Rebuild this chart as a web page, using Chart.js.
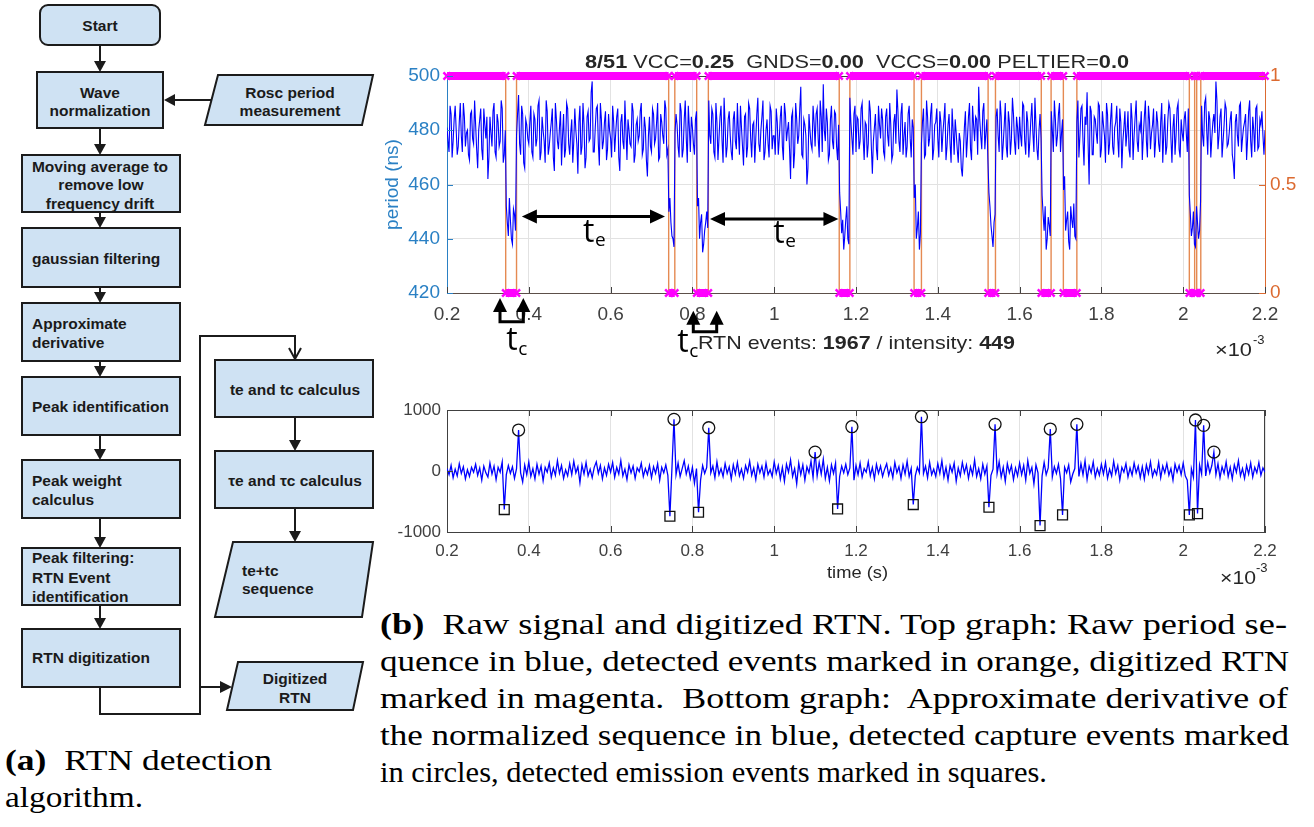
<!DOCTYPE html>
<html><head><meta charset="utf-8">
<script src="https://cdn.jsdelivr.net/npm/chart.js@4.4.1/dist/chart.umd.min.js"></script>
<style>
html,body{margin:0;padding:0;background:#fff;}
#page{position:relative;width:1314px;height:827px;overflow:hidden;background:#fff;}
canvas{position:absolute;}
.fit{position:absolute;white-space:pre;transform-origin:0 50%;}
.sans{font-family:"Liberation Sans",Arial,sans-serif;color:#262626;}
.serif{font-family:"Liberation Serif","Times New Roman",serif;color:#000;font-size:30px;line-height:30px;}
</style></head>
<body><div id="page">
<svg width="380" height="720" style="position:absolute;left:0;top:0" xmlns="http://www.w3.org/2000/svg">
<g fill="#cfe2f3" stroke="#1b1b1b" stroke-width="2">
 <rect x="40" y="5" width="120" height="40" rx="8"/>
 <rect x="37" y="72" width="126" height="56"/>
 <polygon points="218,75 373,75 362,125 205,125"/>
 <rect x="22" y="155" width="158" height="57"/>
 <rect x="22" y="228" width="158" height="59"/>
 <rect x="22" y="303" width="158" height="58"/>
 <rect x="22" y="377" width="158" height="58"/>
 <rect x="22" y="460" width="158" height="58"/>
 <rect x="22" y="548" width="158" height="57"/>
 <rect x="22" y="629" width="158" height="58"/>
 <rect x="215" y="360" width="158" height="57"/>
 <rect x="215" y="451" width="158" height="57"/>
 <polygon points="233,542 373,542 362,617 215,617"/>
 <polygon points="238,662 363,662 353,710 227,710"/>
</g>
<g stroke="#1b1b1b" stroke-width="2" fill="none">
 <line x1="100" y1="45" x2="100" y2="62"/>
 <line x1="100" y1="128" x2="100" y2="145"/>
 <line x1="100" y1="212" x2="100" y2="218"/>
 <line x1="100" y1="287" x2="100" y2="293"/>
 <line x1="100" y1="361" x2="100" y2="367"/>
 <line x1="100" y1="435" x2="100" y2="450"/>
 <line x1="100" y1="518" x2="100" y2="538"/>
 <line x1="100" y1="605" x2="100" y2="619"/>
 <line x1="295" y1="417" x2="295" y2="441"/>
 <line x1="295" y1="508" x2="295" y2="532"/>
 <line x1="211" y1="100" x2="174" y2="100"/>
 <line x1="200" y1="687" x2="221" y2="687"/>
 <polyline points="100,687 100,714 200,714 200,336 295,336 295,359"/>
 <polyline points="289,348 295,359 301,348"/>
</g>
<g fill="#1b1b1b">
 <polygon points="94,61 106,61 100,72"/>
 <polygon points="94,144 106,144 100,155"/>
 <polygon points="94,217 106,217 100,228"/>
 <polygon points="94,292 106,292 100,303"/>
 <polygon points="94,366 106,366 100,377"/>
 <polygon points="94,449 106,449 100,460"/>
 <polygon points="94,537 106,537 100,548"/>
 <polygon points="94,618 106,618 100,629"/>
 <polygon points="289,440 301,440 295,451"/>
 <polygon points="289,531 301,531 295,542"/>
 <polygon points="175,94 175,106 164,100"/>
 <polygon points="220,681 220,693 232,687"/>
</g>
<g font-family="Liberation Sans, Arial, sans-serif" font-weight="bold" font-size="15.5" fill="#1a1a1a" dominant-baseline="central">
 <text x="100" y="25" text-anchor="middle">Start</text>
 <text x="100" y="92" text-anchor="middle">Wave</text>
 <text x="100" y="110" text-anchor="middle">normalization</text>
 <text x="290" y="92" text-anchor="middle">Rosc period</text>
 <text x="290" y="110" text-anchor="middle">measurement</text>
 <text x="100" y="166" text-anchor="middle">Moving average to</text>
 <text x="101" y="184" text-anchor="middle">remove low</text>
 <text x="100" y="203" text-anchor="middle">frequency drift</text>
 <text x="32" y="258">gaussian filtering</text>
 <text x="32" y="323">Approximate</text>
 <text x="32" y="342">derivative</text>
 <text x="32" y="406">Peak identification</text>
 <text x="32" y="480">Peak weight</text>
 <text x="32" y="499">calculus</text>
 <text x="32" y="557">Peak filtering:</text>
 <text x="32" y="577">RTN Event</text>
 <text x="32" y="596">identification</text>
 <text x="32" y="657">RTN digitization</text>
 <text x="295" y="389" text-anchor="middle">te and tc calculus</text>
 <text x="295" y="480" text-anchor="middle">τe and  τc calculus</text>
 <text x="242" y="570">te+tc</text>
 <text x="242" y="588">sequence</text>
 <text x="295" y="678" text-anchor="middle">Digitized</text>
 <text x="295" y="697" text-anchor="middle">RTN</text>
</g>
</svg>

<canvas id="topc" width="937" height="320" style="left:377px;top:40px;width:937px;height:320px"></canvas>
<canvas id="botc" width="937" height="200" style="left:377px;top:390px;width:937px;height:200px"></canvas>

<div class="fit sans" style="font-size:19px;line-height:19px" data-cx="857" data-cy="61" data-w="544" data-k="0.49"><b>8/51</b> VCC=<b>0.25</b>  GNDS=<b>0.00</b>  VCCS=<b>0.00</b> PELTIER=<b>0.0</b></div>
<div class="fit sans" style="font-size:19px;line-height:19px" data-x="698" data-cy="342" data-w="317" data-k="0.49">RTN events: <b>1967</b> / intensity: <b>449</b></div>
<div class="fit sans" style="font-size:19px;line-height:19px" data-x="1215" data-cy="349" data-w="37" data-k="0.49">×10</div>
<div class="fit sans" style="font-size:13px;line-height:13px" data-x="1253" data-cy="339" data-k="0.49">-3</div>
<div class="fit sans" style="font-size:17px;line-height:17px" data-cx="857" data-cy="572" data-w="61" data-k="0.49">time (s)</div>
<div class="fit sans" style="font-size:19px;line-height:19px" data-x="1220" data-cy="577" data-w="36" data-k="0.49">×10</div>
<div class="fit sans" style="font-size:13px;line-height:13px" data-x="1256" data-cy="567" data-k="0.49">-3</div>

<div class="fit serif" data-x="5" data-cy="763" data-w="267" data-k="0.613"><b>(a)</b>  RTN detection</div>
<div class="fit serif" data-x="5" data-cy="800" data-w="138" data-k="0.613">algorithm.</div>
<div class="fit serif" data-x="380" data-cy="627" data-w="907" data-k="0.613"><b>(b)</b>  Raw signal and digitized RTN. Top graph: Raw period se-</div>
<div class="fit serif" data-x="380" data-cy="664" data-w="909" data-k="0.613">quence in blue, detected events marked in orange, digitized RTN</div>
<div class="fit serif" data-x="380" data-cy="701" data-w="908" data-k="0.613">marked in magenta.  Bottom graph:  Approximate derivative of</div>
<div class="fit serif" data-x="380" data-cy="738" data-w="909" data-k="0.613">the normalized sequence in blue, detected capture events marked</div>
<div class="fit serif" data-x="380" data-cy="775" data-w="667" data-k="0.613">in circles, detected emission events marked in squares.</div>
</div>

<script>
// ---------------- DATA ----------------
const T0 = 0.2, DT = 0.005;           // sampling grid of the traces (x10^-3 s)
// period samples on the grid T0 + i*DT
const periodNs = [
481,472,486,476,489,471,483,478,490,474,480,469,487,475,482,466,484,473,488,477,
462,485,474,490,470,483,476,488,471,452,441,447,438,449,478,493,471,486,466,482,
475,489,470,484,477,491,472,480,468,487,474,483,470,490,476,481,467,486,473,488,
471,484,476,480,464,489,474,482,470,487,477,498,472,488,475,490,473,483,469,486,
477,489,472,485,470,483,476,491,469,480,474,487,471,484,478,490,473,481,463,485,
472,486,477,490,470,483,475,488,473,455,441,437,486,474,490,470,484,477,489,472,
481,471,487,455,446,435,443,450,491,475,486,470,483,477,489,468,482,474,487,472,
484,476,490,471,481,467,486,474,488,470,483,477,492,472,485,469,480,475,489,473,
478,488,471,485,474,490,476,483,462,487,472,484,478,496,470,482,460,486,475,489,
474,488,470,485,497,476,483,471,489,473,486,469,457,442,436,447,440,492,477,486,
472,484,476,490,469,482,475,487,464,481,473,489,477,484,470,488,474,482,471,486,
495,476,486,471,483,474,489,470,481,460,444,436,475,488,471,485,477,490,473,483,
477,487,472,484,469,482,475,488,471,479,468,476,463,481,470,485,473,489,476,484,
496,478,487,473,484,457,445,437,449,488,472,485,475,490,470,483,477,486,471,481,
485,474,489,471,483,476,490,472,482,469,486,456,443,436,448,441,480,491,474,486,
472,484,463,447,439,452,444,441,483,470,488,476,485,494,460,487,471,484,475,489,
473,482,468,486,475,490,471,483,477,488,466,481,474,487,470,484,478,491,472,480,
469,485,476,489,473,482,470,487,475,483,468,486,474,490,477,481,471,488,473,484,
476,487,472,456,441,450,437,446,443,489,474,492,471,484,477,486,498,473,485,470,
482,488,475,484,471,462,486,474,490,477,483,469,487,476,485,472,489,474,482,478,
480];
// period samples at the half-steps T0 + (j+0.5)*DT
const periodNsHalf = [
476,489,470,484,480,474,490,472,485,479,471,486,477,491,473,480,488,469,482,485,
470,479,487,472,486,474,491,468,480,446,455,440,451,443,486,475,489,468,484,477,
483,472,486,474,489,469,485,476,491,471,479,488,465,484,473,487,478,470,490,475,
479,468,488,475,483,471,490,466,485,476,494,472,481,489,467,484,476,487,473,480,
470,483,479,488,465,486,473,480,484,475,490,468,482,476,487,471,485,469,478,474,
488,475,483,469,486,478,491,471,450,446,440,479,482,470,487,473,491,468,481,485,
475,484,452,440,449,438,446,444,478,488,472,490,469,485,476,492,470,484,478,469,
487,473,479,489,474,485,470,490,477,482,468,486,475,480,491,472,484,470,487,478,
471,483,477,489,469,486,480,473,485,466,490,475,488,471,484,478,466,480,473,483,
486,477,491,472,480,488,469,484,476,487,474,482,450,447,441,452,438,483,471,489,
485,473,488,477,483,470,491,474,476,486,469,482,488,472,485,478,490,469,483,475,
487,472,490,478,470,486,477,484,455,440,450,442,483,470,491,474,486,469,482,488,
470,483,479,490,474,486,468,480,484,473,479,466,472,487,477,490,469,482,485,471,
484,473,490,479,469,452,441,446,485,478,491,469,482,474,487,471,492,476,485,473,
478,490,476,487,470,484,479,492,473,480,477,449,452,440,445,487,472,484,478,490,
479,458,443,450,436,447,453,440,491,478,489,467,482,475,489,471,485,479,490,470,
487,478,490,471,484,474,481,489,470,483,476,487,479,473,490,469,485,476,482,487,
478,491,470,484,479,488,476,483,472,490,479,471,484,488,468,486,478,490,470,479,
484,479,488,449,444,438,452,440,454,478,490,480,487,470,483,479,491,478,488,476,
490,474,479,487,468,483,478,489,472,481,486,477,491,470,480,488,473,484,487,471];
const derivative = [
40,-60,90,-110,30,-80,120,-40,70,-130,20,-90,60,-20,110,-70,50,-150,80,-30,
-100,130,-50,80,-140,60,-20,150,-632,-60,90,-40,70,-120,40,671,-30,-180,100,-60,
150,-90,40,-130,110,-50,80,-160,60,-20,130,-100,50,-70,170,-40,90,-120,20,-80,
120,-60,160,-30,70,-190,100,-50,140,-80,30,-110,60,150,-40,90,-130,50,-70,110,
-20,140,-100,60,-50,170,-80,30,-140,100,-30,80,-120,50,-10,130,-90,40,-60,90,
-110,70,-40,120,-150,60,-30,100,-70,-742,50,847,-60,130,-90,40,170,-50,80,-120,
60,-200,40,-676,-150,90,-40,60,709,-30,80,-110,150,-60,40,-90,120,-40,70,-130,
100,-50,140,-80,30,-120,90,-20,160,-70,50,-140,110,-30,80,-100,130,-60,20,-90,
150,-40,90,-130,60,-170,110,-20,180,-90,40,-210,130,-60,100,-150,70,-30,160,-110,
310,-80,140,-50,190,-120,60,-160,100,-40,130,-622,-90,80,-30,110,-60,50,726,-150,
90,-60,130,-100,40,-20,150,-80,60,-130,110,-40,80,-90,30,120,-70,50,-110,140,
-30,70,-120,100,-50,160,-90,40,-550,-80,60,-30,890,-40,80,-110,140,-60,30,-90,
120,-40,170,-100,60,-150,90,-20,130,-170,50,-80,140,-30,100,-120,70,-60,180,-90,
40,-130,110,-50,80,-594,-70,30,765,-40,150,-100,60,-170,120,-30,90,-140,50,-80,
130,-60,90,-150,170,-40,60,-210,100,-30,-895,-80,140,-60,50,688,-100,70,-40,110,
-120,-720,60,-30,100,-180,-50,40,765,-90,120,-60,170,-140,80,-30,150,-100,40,-70,
110,-50,140,-120,30,-80,160,-40,90,-150,60,-20,120,-100,50,-70,130,-30,80,-110,
70,-130,100,-40,150,-90,20,-60,140,-110,80,-30,120,-70,40,-150,110,-20,90,-60,
130,-80,-150,-720,40,-100,836,-698,100,-50,748,-80,140,-30,90,310,-60,120,-110,70,
-40,150,-90,60,-130,100,-20,170,-80,40,-120,90,-50,130,-100,60,-30,140,-70,50,
-20];
const eventTimes = [0.3435,0.370,0.742,0.757,0.8105,0.839,1.159,1.185,1.342,1.360,1.523,1.541,1.653,1.677,1.707,1.740,2.015,2.028,2.033,2.043];
const rtnLevels  = [1,0,1,0,1,0,1,0,1,0,1,0,1,0,1,0,1,0,1,0,1];
const captureX  = [0.375,0.755,0.840,1.100,1.190,1.360,1.540,1.675,1.740,2.030,2.050,2.075];
const captureY  = [671,847,709,310,726,890,765,688,765,836,748,310];
const emissionX = [0.340,0.745,0.815,1.155,1.340,1.525,1.650,1.705,2.015,2.035];
const emissionY = [-632,-742,-676,-622,-550,-594,-895,-720,-720,-698];
const xTickValues = [0.2,0.4,0.6,0.8,1,1.2,1.4,1.6,1.8,2,2.2];
const xTickLabels = ['0.2','0.4','0.6','0.8','1','1.2','1.4','1.6','1.8','2','2.2'];
const periodTicks = [420,440,460,480,500];
const rtnTicks = [0,0.5,1];
const rtnTickLabels = ['0','0.5','1'];
const derivTicks = [-1000,0,1000];
const derivTickLabels = ['-1000','0','1000'];
// annotation anchors (data units)
const teSpans = [[0.383,0.733],[0.843,1.157]];
const teLevel = [448.2,447.3];
const teLabelX = [0.5465,1.0117];
const teLabelY = [438.9,438.4];
const tcArrowX = [[0.3296,0.3866],[0.8022,0.8594]];
const tcTipY = [418.2,413.5];
const tcBarY = [409.4,405.7];
const tcLabelX = [0.3589,0.777];
const tcLabelY = [399.0,398.3];

// ---------------- BUILD POINTS ----------------
const periodPts = [];
periodNs.forEach((v,i)=>{
  periodPts.push({x:T0+i*DT, y:v});
  if (i < periodNsHalf.length) periodPts.push({x:T0+(i+0.5)*DT, y:periodNsHalf[i]});
});
const derivPts = derivative.map((v,i)=>({x:T0+i*DT, y:v}));
const bounds = [T0].concat(eventTimes, [T0+(periodNs.length-1)*DT]);
const rtnPts = [];
rtnLevels.forEach((L,i)=>{ rtnPts.push({x:bounds[i],y:L},{x:bounds[i+1],y:L},{x:bounds[i+1],y:null}); });
const eventPts = [];
eventTimes.forEach(t=>{ eventPts.push({x:t,y:0},{x:t,y:1},{x:t,y:null}); });
const capPts = captureX.map((x,i)=>({x, y:captureY[i]}));
const emiPts = emissionX.map((x,i)=>({x, y:emissionY[i]}));

// ---------------- STYLE ----------------
const FONT = '"Liberation Sans", Arial, sans-serif';
const BLUE_AX = '#2a80c4', ORANGE_AX = '#dc6a30', DARK = '#404040', GRID = '#e2e2e2';

const inTicks = {
  id:'inTicks',
  afterDatasetsDraw(chart, args, o){
    const {ctx, chartArea:a} = chart; const L = o.len;
    ctx.save(); ctx.lineWidth = 1;
    const xs = chart.scales.x;
    ctx.strokeStyle = o.xColor;
    xs.ticks.forEach(t=>{ const p = Math.round(xs.getPixelForValue(t.value))+0.5;
      ctx.beginPath(); ctx.moveTo(p,a.bottom); ctx.lineTo(p,a.bottom-L);
      if (o.top){ ctx.moveTo(p,a.top); ctx.lineTo(p,a.top+L); } ctx.stroke(); });
    (o.yAxes||[]).forEach(ax=>{ const s = chart.scales[ax.id]; ctx.strokeStyle = ax.color;
      s.ticks.forEach(t=>{ const p = Math.round(s.getPixelForValue(t.value))+0.5;
        ctx.beginPath();
        if (ax.side==='left'){ ctx.moveTo(a.left,p); ctx.lineTo(a.left+L,p); }
        else { ctx.moveTo(a.right,p); ctx.lineTo(a.right-L,p); }
        ctx.stroke(); }); });
    ctx.restore();
  }
};
const frame = {
  id:'frame',
  beforeDatasetsDraw(chart, args, o){
    const {ctx, chartArea:a} = chart; ctx.save(); ctx.lineWidth=1; ctx.strokeStyle=o.color;
    ctx.beginPath();
    if (o.top){ ctx.moveTo(a.left, Math.round(a.top)+0.5); ctx.lineTo(a.right, Math.round(a.top)+0.5); }
    if (o.right){ ctx.moveTo(Math.round(a.right)-0.5, a.top); ctx.lineTo(Math.round(a.right)-0.5, a.bottom); }
    ctx.stroke(); ctx.restore();
  }
};
function head(ctx, tx, ty, dx, dy, L, H){
  const bx = tx-dx*L, by = ty-dy*L, px = -dy, py = dx;
  ctx.beginPath(); ctx.moveTo(tx,ty); ctx.lineTo(bx+px*H,by+py*H); ctx.lineTo(bx-px*H,by-py*H); ctx.closePath(); ctx.fill();
}
function tLabel(ctx, x, y, sub, dy){
  ctx.font = '32px "Open Sans", "DejaVu Sans", sans-serif';
  ctx.textAlign='center'; ctx.textBaseline='alphabetic';
  ctx.fillText('t', x, y);
  const w = ctx.measureText('t').width;
  ctx.font = '19px "Open Sans", "DejaVu Sans", sans-serif';
  ctx.textAlign='left'; ctx.fillText(sub, x + w/2 + 0.5, y + dy);
}
const annot = {
  id:'annot',
  afterDraw(chart){
    const {ctx} = chart, xs = chart.scales.x, ys = chart.scales.y;
    ctx.save(); ctx.strokeStyle='#000'; ctx.fillStyle='#000'; ctx.lineWidth=3;
    teSpans.forEach((s,i)=>{
      const x0 = xs.getPixelForValue(s[0]), x1 = xs.getPixelForValue(s[1]), y = ys.getPixelForValue(teLevel[i]);
      ctx.beginPath(); ctx.moveTo(x0+12,y); ctx.lineTo(x1-12,y); ctx.stroke();
      head(ctx,x0,y,-1,0,15,7); head(ctx,x1,y,1,0,15,7);
      tLabel(ctx, xs.getPixelForValue(teLabelX[i]), ys.getPixelForValue(teLabelY[i]), 'e', 4);
    });
    tcArrowX.forEach((pair,i)=>{
      const tip = ys.getPixelForValue(tcTipY[i]), bar = ys.getPixelForValue(tcBarY[i]);
      const xa = pair.map(v=>xs.getPixelForValue(v));
      ctx.beginPath();
      xa.forEach(x=>{ ctx.moveTo(x, tip+12); ctx.lineTo(x, bar); });
      ctx.moveTo(xa[0]-1.5, bar); ctx.lineTo(xa[1]+1.5, bar);
      ctx.stroke();
      xa.forEach(x=>head(ctx, x, tip, 0, -1, 14, 7));
      tLabel(ctx, xs.getPixelForValue(tcLabelX[i]), ys.getPixelForValue(tcLabelY[i]), 'c', 5);
    });
    ctx.restore();
  }
};
const fmtFrom = (vals, labels) => v => { const i = vals.findIndex(t=>Math.abs(t-v)<1e-9); return i>=0 ? labels[i] : ''; };

new Chart(document.getElementById('topc'), {
  type:'line',
  data:{ datasets:[
    { data:rtnPts, yAxisID:'yR', borderColor:'#ff00ff', backgroundColor:'#ff00ff', borderWidth:8, spanGaps:false, clip:false, order:1,
      pointStyle:'crossRot', pointRadius:c=>(c.raw && c.raw.y!==null)?5:0, pointBorderColor:'#ff00ff', pointBorderWidth:2.5 },
    { data:periodPts, yAxisID:'y', borderColor:'#0000ff', borderWidth:1.1, pointRadius:0, order:2 },
    { data:eventPts, yAxisID:'yR', borderColor:'#e58a52', borderWidth:1.4, pointRadius:0, spanGaps:false, order:3 }
  ]},
  options:{
    responsive:false, animation:false, events:[],
    layout:{padding:{top:36,left:0,right:0,bottom:0}},
    plugins:{ legend:{display:false}, tooltip:{enabled:false},
      frame:{top:true, color:DARK},
      inTicks:{len:6, xColor:DARK, yAxes:[{id:'y',side:'left',color:BLUE_AX},{id:'yR',side:'right',color:ORANGE_AX}]} },
    scales:{
      x:{ type:'linear', min:0.2, max:2.2,
        afterBuildTicks:s=>{ s.ticks = xTickValues.map(v=>({value:v})); },
        ticks:{ callback:fmtFrom(xTickValues,xTickLabels), color:DARK, font:{family:FONT,size:19}, padding:10, maxRotation:0, autoSkip:false },
        grid:{ color:GRID, drawTicks:false }, border:{color:'#5c4f49', width:1},
        afterFit:s=>{ s.height = 67; } },
      y:{ position:'left', min:420, max:500,
        afterBuildTicks:s=>{ s.ticks = periodTicks.map(v=>({value:v})); },
        ticks:{ color:BLUE_AX, font:{family:FONT,size:19}, padding:7, callback:v=>String(v) },
        grid:{ color:GRID, drawTicks:false }, border:{color:BLUE_AX, width:1},
        title:{ display:true, text:'period (ns)', color:BLUE_AX, font:{family:FONT,size:19}, padding:{top:4,bottom:0} },
        afterFit:s=>{ s.width = 70; } },
      yR:{ position:'right', min:0, max:1,
        afterBuildTicks:s=>{ s.ticks = rtnTicks.map(v=>({value:v})); },
        ticks:{ color:ORANGE_AX, font:{family:FONT,size:19}, padding:5, callback:fmtFrom(rtnTicks,rtnTickLabels) },
        grid:{ display:false, drawTicks:false }, border:{color:ORANGE_AX, width:1},
        afterFit:s=>{ s.width = 49; } }
    }
  },
  plugins:[frame, inTicks, annot]
});

new Chart(document.getElementById('botc'), {
  type:'line',
  data:{ datasets:[
    { data:capPts, showLine:false, pointStyle:'circle', pointRadius:6, pointBorderColor:'#111', pointBorderWidth:1.3, pointBackgroundColor:'rgba(0,0,0,0)', order:1 },
    { data:emiPts, showLine:false, pointStyle:'rect', pointRadius:7, pointBorderColor:'#111', pointBorderWidth:1.3, pointBackgroundColor:'rgba(0,0,0,0)', order:1 },
    { data:derivPts, borderColor:'#0000ff', borderWidth:1.3, pointRadius:0, order:2 }
  ]},
  options:{
    responsive:false, animation:false, events:[],
    layout:{padding:{top:20,left:0,right:49,bottom:0}},
    plugins:{ legend:{display:false}, tooltip:{enabled:false},
      frame:{top:true, right:true, color:DARK},
      inTicks:{len:6, top:true, xColor:DARK, yAxes:[{id:'y',side:'left',color:DARK}]} },
    scales:{
      x:{ type:'linear', min:0.2, max:2.2,
        afterBuildTicks:s=>{ s.ticks = xTickValues.map(v=>({value:v})); },
        ticks:{ callback:fmtFrom(xTickValues,xTickLabels), color:DARK, font:{family:FONT,size:17}, padding:9, maxRotation:0, autoSkip:false },
        grid:{ color:GRID, drawTicks:false }, border:{color:DARK, width:1},
        afterFit:s=>{ s.height = 58; } },
      y:{ position:'left', min:-1000, max:1000,
        afterBuildTicks:s=>{ s.ticks = derivTicks.map(v=>({value:v})); },
        ticks:{ color:DARK, font:{family:FONT,size:17}, padding:6, callback:fmtFrom(derivTicks,derivTickLabels) },
        grid:{ display:false, drawTicks:false }, border:{color:DARK, width:1},
        afterFit:s=>{ s.width = 70; } }
    }
  },
  plugins:[frame, inTicks]
});

// ---------------- TEXT PLACEMENT ----------------
function hasFont(name){
  const c = document.createElement('canvas').getContext('2d');
  const s = 'RTN detection algorithm 0123456789 WQmgi';
  return ['monospace','sans-serif'].some(fb=>{
    c.font = '40px ' + fb; const a = c.measureText(s).width;
    c.font = '40px "' + name + '", ' + fb; const b = c.measureText(s).width;
    return Math.abs(a-b) > 0.5;
  });
}
(function pickSerif(){
  const cands = ['Liberation Serif','Tinos','Nimbus Roman','Nimbus Roman No9 L','FreeSerif','Noto Serif','Times New Roman','DejaVu Serif'];
  let pick = cands.find(hasFont) || 'serif';
  document.querySelectorAll('.serif').forEach(el=>{
    el.style.fontFamily = '"' + pick + '", serif';
    if (pick === 'DejaVu Serif') { el.style.fontSize = '26px'; el.style.lineHeight = '26px'; }
  });
})();
function fitAll(){
  document.querySelectorAll('.fit').forEach(el=>{
    el.style.transform='none';
    const fs = parseFloat(getComputedStyle(el).fontSize);
    const nat = el.getBoundingClientRect().width;
    const w = el.dataset.w ? +el.dataset.w : nat;
    el.style.transform = 'scaleX(' + (w/nat) + ')';
    const left = el.dataset.x !== undefined ? +el.dataset.x : (+el.dataset.cx - w/2);
    el.style.left = left + 'px';
    el.style.top = (+el.dataset.cy - fs * (+el.dataset.k)) + 'px';
  });
}
fitAll();
if (document.fonts && document.fonts.ready) document.fonts.ready.then(fitAll);
</script>
</body></html>
